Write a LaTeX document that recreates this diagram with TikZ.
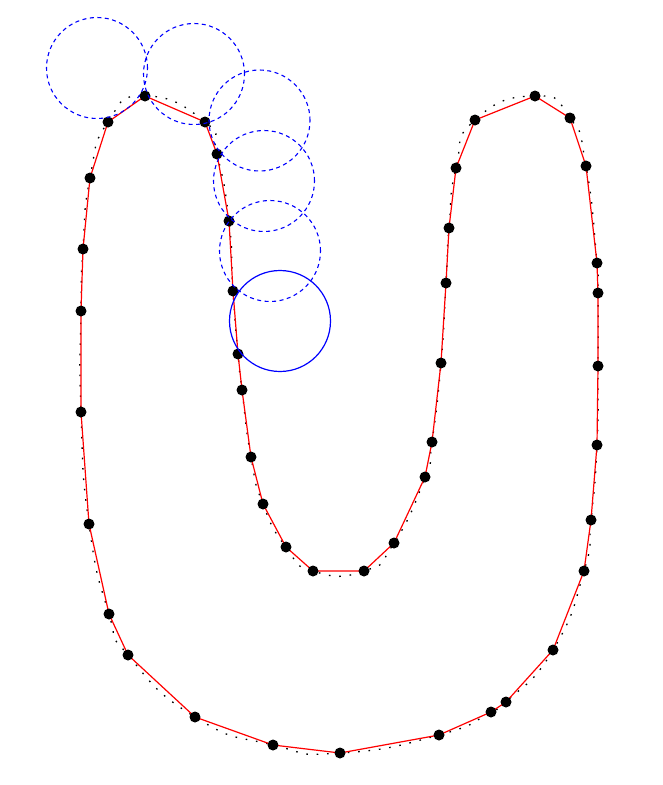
\documentclass[tikz,border=0pt]{standalone}
\begin{document}
\begin{tikzpicture}[x=1pt,y=-1pt,
 dot/.style={circle,fill=black,inner sep=0pt,minimum size=11pt},
 poly/.style={red,line width=1.2pt,line join=round},
 guide/.style={black,line width=1.3pt,dash pattern=on 1.6pt off 8.8pt},
 probe/.style={circle,draw=blue,line width=1.1pt,dash pattern=on 4pt off 3.5pt,inner sep=0pt,minimum size=101pt},
 hit/.style={circle,draw=blue,line width=1.2pt,inner sep=0pt,minimum size=101pt}]
\useasboundingbox (0,0) rectangle (662,785);
\foreach \x/\y [count=\i] in {108/122,145/96,205/122,217/154,229/221,233/291,238/354,242/390,251/457,263/504,286/547,313/571,364/571,394/543,425/477,432/442,441/363,446/283,449/228,456/168,475/120,535/96,570/118,586/166,597/263,598/293,598/366,597/445,591/520,584/571,553/650,506/702,491/712,439/735,340/753,273/745,195/717,128/655,109/614,89/524,81/412,81/311,83/249,90/178}
  \coordinate (c\i) at (\x,\y);
\draw[guide] plot[smooth cycle,tension=1] coordinates {(c1) (c2) (c3) (c4) (c5) (c6) (c7) (c8) (c9) (c10) (c11) (c12) (c13) (c14) (c15) (c16) (c17) (c18) (c19) (c20) (c21) (c22) (c23) (c24) (c25) (c26) (c27) (c28) (c29) (c30) (c31) (c32) (c33) (c34) (c35) (c36) (c37) (c38) (c39) (c40) (c41) (c42) (c43) (c44)};
\draw[poly] (c1) \foreach \i in {2,...,44}{ -- (c\i)} -- cycle;
\foreach \i in {1,...,44} \node[dot] (d\i) at (c\i) {};
\node[probe] (k1) at (97,68) {};
\node[probe] (k2) at (194,74) {};
\node[probe] (k3) at (259.5,120.5) {};
\node[probe] (k4) at (264,181) {};
\node[probe] (k5) at (270,251) {};
\node[hit] (k6) at (280,321) {};
\end{tikzpicture}
\end{document}
